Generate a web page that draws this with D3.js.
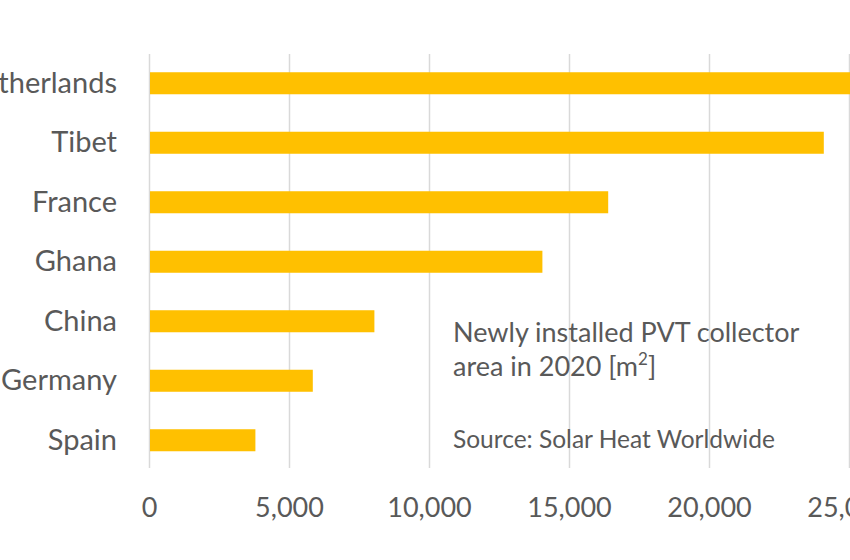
<!DOCTYPE html>
<html>
<head>
<meta charset="utf-8">
<script src="https://cdn.jsdelivr.net/npm/d3@7"></script>
<style>
  html, body { margin: 0; padding: 0; background: #fff; overflow: hidden; }
  svg { display: block; }
  text { font-family: Lato, "Open Sans", sans-serif; fill: #595959; }
</style>
</head>
<body>
<svg id="chart" width="850" height="560"></svg>
<script>
const categories = ["Netherlands", "Tibet", "France", "Ghana", "China", "Germany", "Spain"];
const values = [27500, 24100, 16400, 14050, 8050, 5850, 3800];
const tickValues = [0, 5000, 10000, 15000, 20000, 25000];
const noteLines = ["Newly installed PVT collector", "area in 2020 [m", "]"];
const sourceText = "Source: Solar Heat Worldwide";

const svg = d3.select("#chart");
const x = d3.scaleLinear().domain([0, 25000]).range([149, 849]);
const y = d3.scaleBand().domain(categories).range([53.5, 470]).paddingInner(0.63).paddingOuter(0.315);

// gridlines
svg.append("g").selectAll("line").data(tickValues).join("line")
  .attr("x1", d => Math.round(x(d)) + 0.5).attr("x2", d => Math.round(x(d)) + 0.5)
  .attr("y1", 54).attr("y2", 468)
  .attr("stroke", "#d9d9d9").attr("stroke-width", 1.5);

// bars
svg.append("g").selectAll("rect").data(categories).join("rect")
  .attr("x", x(0) + 1)
  .attr("y", d => y(d))
  .attr("width", (d, i) => x(values[i]) - x(0) - 1)
  .attr("height", y.bandwidth())
  .attr("fill", "#FFC000");

// x axis labels
const xAxis = d3.axisBottom(x).tickValues(tickValues).tickFormat(d3.format(",")).tickSize(0).tickPadding(0);
const gx = svg.append("g").attr("transform", "translate(0,498)").call(xAxis);
gx.select(".domain").remove();
gx.selectAll("text").attr("font-size", 27).attr("fill", "#595959")
  .style("font-family", "Lato, 'Open Sans', sans-serif").attr("dy", "0.71em");

// y axis labels
const yAxis = d3.axisLeft(y).tickSize(0).tickPadding(0);
const gy = svg.append("g").attr("transform", "translate(117,0)").call(yAxis);
gy.select(".domain").remove();
gy.selectAll("text").attr("font-size", 29).attr("fill", "#595959")
  .style("font-family", "Lato, 'Open Sans', sans-serif");

// annotation
const note = svg.append("g");
note.append("text").attr("x", 453).attr("y", 342).attr("font-size", 27).text(noteLines[0]);
const t2 = note.append("text").attr("x", 453).attr("y", 376).attr("font-size", 27);
t2.append("tspan").text(noteLines[1]);
t2.append("tspan").attr("font-size", 17).attr("dy", -11).text("2");
t2.append("tspan").attr("dy", 11).text(noteLines[2]);
note.append("text").attr("x", 453).attr("y", 448).attr("font-size", 24.5).text(sourceText);
</script>
</body>
</html>
